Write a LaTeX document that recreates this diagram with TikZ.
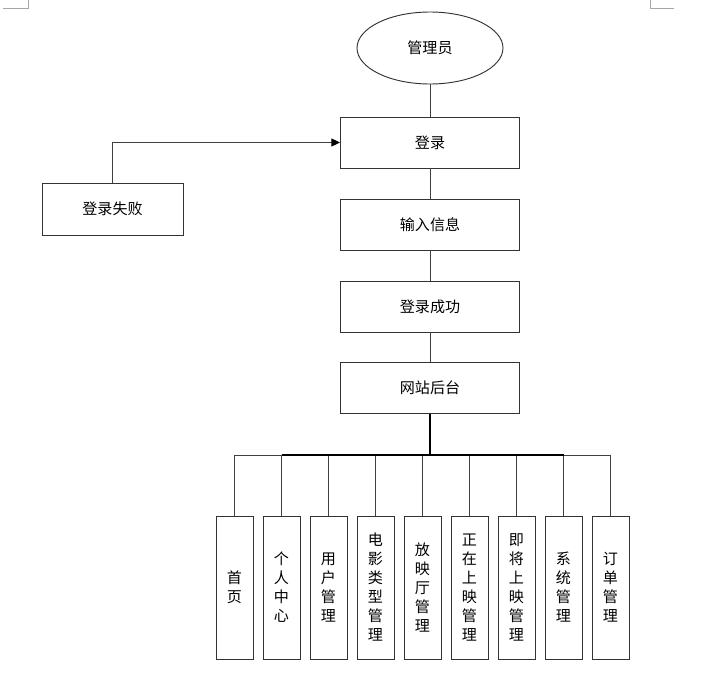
\documentclass[tikz,border=0pt]{standalone}
\usepackage{fontspec}
\newfontfamily\cjk{Noto Sans CJK SC}
\usetikzlibrary{shapes.geometric,arrows.meta,positioning}

\begin{document}
\begin{tikzpicture}[x=0.75pt,y=-0.75pt,
  every node/.style={font=\cjk\fontsize{11.3}{14.25}\selectfont},
  box/.style={draw=black!80,line width=0.7pt,minimum width=134.25pt,minimum height=38.25pt,inner sep=0pt},
  vbox/.style={draw=black!80,line width=0.7pt,minimum width=27.75pt,minimum height=107.25pt,inner sep=0pt,align=center},
  link/.style={draw=black!75,line width=0.7pt}]
  \useasboundingbox (0,0) rectangle (717,675);
  % page corner marks
  \draw[black!35] (3,8) -- (28,8) -- (28,0);
  \draw[black!35] (650,0) -- (650,8) -- (674,8);
  % login flow
  \node[ellipse,draw=black!80,line width=0.7pt,minimum width=109.5pt,minimum height=54pt] (admin) at (430,48) {管理员};
  \node[box] (login) at (430,142.5) {登录};
  \node[box] (input) at (430,224.5) {输入信息};
  \node[box] (ok) at (430,306.5) {登录成功};
  \node[box] (back) at (430,388) {网站后台};
  \node[box,minimum width=105.75pt,minimum height=39pt] (fail) at (112.5,209) {登录失败};
  \draw[link] (admin) -- (login);
  \draw[link] (login) -- (input);
  \draw[link] (input) -- (ok);
  \draw[link] (ok) -- (back);
  \draw[link,-{Triangle[length=6.5pt,width=6pt,black]}] (fail.north) |- (login.west);
  % modules
  \coordinate (bus) at (430,455);
  \foreach \x/\t [count=\i] in {234.5/{首\\页},281.5/{个\\人\\中\\心},328.5/{用\\户\\管\\理},
      375.5/{电\\影\\类\\型\\管\\理},422.5/{放\\映\\厅\\管\\理},469.5/{正\\在\\上\\映\\管\\理},
      516.5/{即\\将\\上\\映\\管\\理},563.5/{系\\统\\管\\理},610.5/{订\\单\\管\\理}} {
    \node[vbox] (m\i) at (\x,587.5) {\t};
    \draw[link] (m\i.north) -- (m\i.north |- bus);
  }
  \draw[link] (m1.north |- bus) -- (m9.north |- bus);
  \draw[line width=1.3pt] (m2.north |- bus) -- (m8.north |- bus);
  \draw[line width=2pt] (back) -- (bus);
\end{tikzpicture}
\end{document}
